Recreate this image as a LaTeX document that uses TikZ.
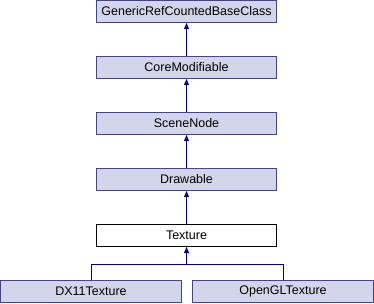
\documentclass[tikz,border=0pt]{standalone}
\usepackage{fontspec}
\setmainfont{Liberation Sans}
\usetikzlibrary{arrows.meta}
\definecolor{boxfill}{RGB}{211,213,232}
\definecolor{boxline}{RGB}{68,68,136}
\definecolor{linkline}{RGB}{0,0,128}
\begin{document}
\begin{tikzpicture}[x=1pt,y=-1pt,
  cls/.style={draw=boxline,fill=boxfill,line width=1pt,inner sep=0pt,
    font=\fontsize{12.5}{14}\selectfont},
  current/.style={draw=black,fill=white,line width=1pt,inner sep=0pt,
    font=\fontsize{12.5}{14}\selectfont},
  inherit/.style={draw=linkline,line width=1pt,
    {Triangle[width=5pt,length=6pt]}-}]
\useasboundingbox (0,0) rectangle (374,304);
% class boxes, one per inheritance level
\node[cls,minimum width=180pt,minimum height=22pt] (base) at (186.5,11.5) {GenericRefCountedBaseClass};
\node[cls,minimum width=180pt,minimum height=22pt] (core) at (186.5,67.5) {CoreModifiable};
\node[cls,minimum width=180pt,minimum height=22pt] (scene) at (186.5,123.5) {SceneNode};
\node[cls,minimum width=180pt,minimum height=22pt] (draw) at (186.5,179.5) {Drawable};
\node[current,minimum width=180pt,minimum height=22pt] (tex) at (186.5,235.5) {Texture};
\node[cls,minimum width=181pt,minimum height=22pt] (dx) at (91,291.5) {DX11Texture};
\node[cls,minimum width=181pt,minimum height=22pt] (gl) at (283,291.5) {OpenGLTexture};
% inheritance links
\draw[inherit] (base.south) -- (core.north);
\draw[inherit] (core.south) -- (scene.north);
\draw[inherit] (scene.south) -- (draw.north);
\draw[inherit] (draw.south) -- (tex.north);
\coordinate (bar) at (186.5,264.5);
\draw[inherit] (tex.south) -- (bar);
\draw[draw=linkline,line width=1pt] (dx.north) |- (bar) -| (gl.north);
\end{tikzpicture}
\end{document}
